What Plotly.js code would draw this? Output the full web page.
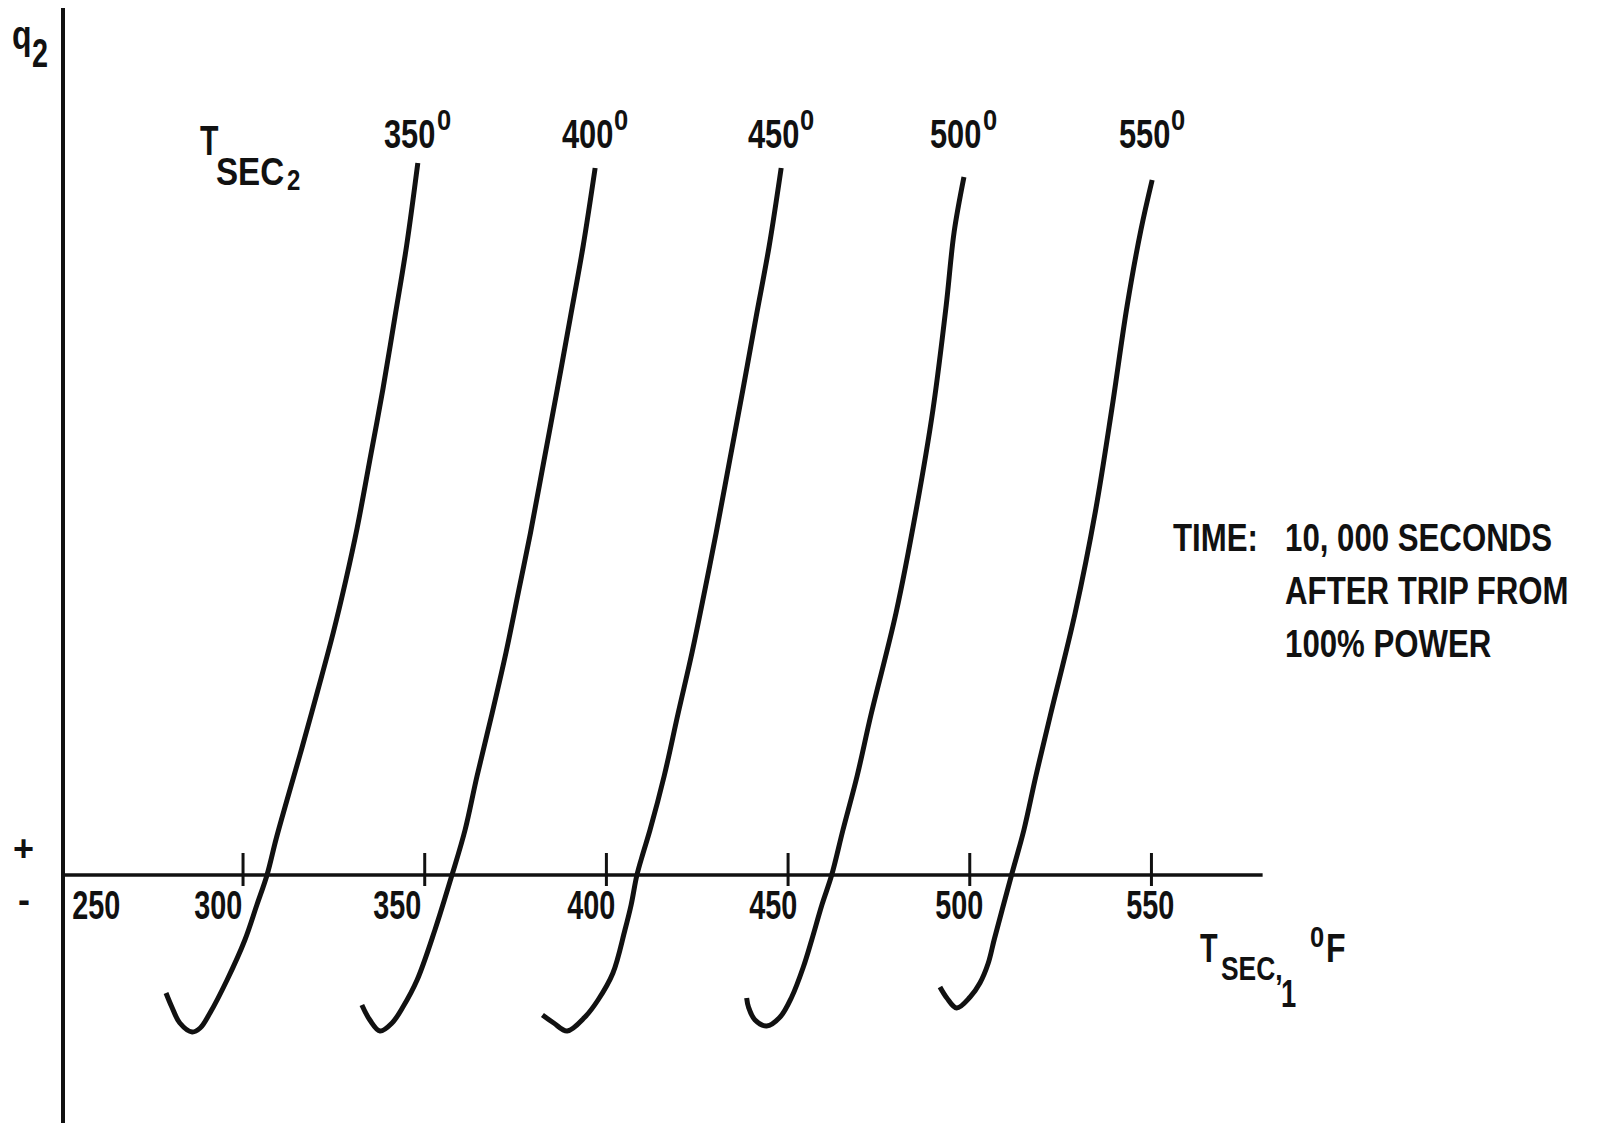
<!DOCTYPE html>
<html>
<head>
<meta charset="utf-8">
<script src="https://cdn.plot.ly/plotly-3.0.1.min.js"></script>
<style>
  html, body { margin: 0; padding: 0; background: #fff; }
  #chart { width: 1602px; height: 1123px; }
</style>
</head>
<body>
<div id="chart"></div>
<script>
// Secondary-side temperature of loop 2 (T_SEC2, deg F), one curve per level
const tsec2Levels = [350, 400, 450, 500, 550];

// T_SEC1 (deg F) and heat flow q2 (relative units) along each curve
const tsec1_350 = [278.8, 280.4, 282.6, 286.0, 288.2, 290.9, 295.6, 300.5, 303.8, 306.6, 309.1, 312.1, 316.2, 320.6, 324.8, 328.3, 331.4, 335.1, 338.5, 341.8, 345.0, 348.1];
const q2_350    = [-11.8, -13.2, -14.8, -15.7, -15.3, -13.8, -10.5, -6.5, -3.0, 0, 3.6, 7.5, 12.7, 18.5, 24.2, 29.5, 34.7, 41.9, 48.6, 55.8, 62.9, 71.2];

const tsec1_400 = [332.7, 334.9, 337.7, 341.0, 344.0, 347.9, 352.8, 357.5, 361.1, 364.4, 368.5, 372.4, 375.9, 379.1, 382.8, 386.5, 390.1, 393.6, 396.9];
const q2_400    = [-13.0, -14.5, -15.6, -14.8, -13.2, -10.5, -5.5, 0, 4.5, 9.9, 16.1, 22.3, 28.5, 34.2, 41.4, 48.6, 55.8, 62.9, 70.7];

const tsec1_450 = [382.4, 385.5, 389.2, 394.1, 397.7, 401.8, 405.1, 406.8, 408.4, 410.1, 412.0, 415.9, 419.7, 423.6, 427.1, 430.2, 433.9, 437.6, 441.2, 444.8, 448.1];
const q2_450    = [-14.0, -14.8, -15.6, -14.2, -12.5, -9.8, -5.5, -3.0, 0, 2.2, 4.5, 9.9, 16.1, 22.3, 28.5, 34.2, 41.4, 48.6, 55.8, 62.9, 70.7];

const tsec1_500 = [438.6, 439.1, 440.9, 444.1, 447.8, 451.0, 454.2, 456.5, 459.3, 462.0, 465.1, 469.0, 472.8, 479.7, 485.2, 489.9, 493.5, 495.7, 498.4];
const q2_500    = [-12.3, -13.2, -14.5, -15.1, -14.2, -12.2, -9.2, -6.5, -3.0, 0, 4.5, 9.9, 16.0, 26.2, 36.4, 46.6, 56.9, 64.3, 69.8];

const tsec1_550 = [491.8, 493.7, 496.4, 500.1, 502.8, 505.1, 506.7, 508.9, 511.5, 514.9, 518.2, 522.2, 529.0, 534.6, 539.1, 543.3, 547.1, 550.2];
const q2_550    = [-11.2, -12.3, -13.3, -12.2, -10.8, -8.8, -6.5, -3.5, 0, 4.5, 9.9, 16.0, 26.2, 36.4, 46.6, 56.9, 64.5, 69.5];

// T_SEC1 axis
const tsec1Ticks = [300, 350, 400, 450, 500, 550];
const tsec1LabelValues = [250, 300, 350, 400, 450, 500, 550];
const tsec1TickLabels = ['250', '300', '350', '400', '450', '500', '550'];
const tsec1AxisEnd = 580.6;

// Note on the right
const noteLines = ['TIME:', '10, 000 SECONDS', 'AFTER TRIP FROM', '100% POWER'];

// ---------------------------------------------------------------- layout
const W = 1602, H = 1123;
const M = { l: 65, r: 0, t: 8, b: 0 };
const X_RANGE = [251, 674];
const Y_RANGE = [-24.8, 86.7];
const plotW = W - M.l - M.r, plotH = H - M.t - M.b;
const FONT = '"Liberation Sans", Arial, sans-serif';
const INK = '#111';
// the lettering is a narrow face: letters and digits are compressed horizontally
const NARROW = 0.8, NARROW_DIGITS = 0.72, NARROW_LEVEL = 0.77;

const pxX = px => (px - M.l) / plotW;
const pxY = py => (H - M.b - py) / plotH;
const dataPx = v => M.l + (v - X_RANGE[0]) / (X_RANGE[1] - X_RANGE[0]) * plotW;

// text set by its left edge (or centre) and its baseline, in page pixels
const texts = [];
function put(text, x, baseline, size, anchor, sx) {
  texts.push({ text, x, baseline, size, anchor, sx: sx || 1 });
}

const curves = [
  [tsec1_350, q2_350], [tsec1_400, q2_400], [tsec1_450, q2_450],
  [tsec1_500, q2_500], [tsec1_550, q2_550]
];

// q2 axis name and sign marks
put('q', 12, 49, 40, 'left', NARROW);
put('2', 32, 67, 40, 'left', NARROW_DIGITS);
put('+', 23.5, 861, 36, 'center');
put('-', 23.5, 912, 36, 'center');

// T_SEC2 heading
put('T', 200, 155, 42, 'left', NARROW_DIGITS);
put('SEC', 216, 185, 39, 'left', 0.85);
put('2', 287, 190, 30, 'left', NARROW);

// level labels above the top end of each curve, degree mark raised
curves.forEach((c, i) => {
  const top = dataPx(c[0][c[0].length - 1]);
  put(String(tsec2Levels[i]), top - 33.5, 148, 40, 'left', NARROW_LEVEL);
  put('0', top + 19, 130, 30, 'left', 0.85);
});

// T_SEC1 tick labels (hand-lettered slightly left of their ticks)
const tickNudge = [35, -25, -27, -15, -15, -10, -1];
tsec1LabelValues.forEach((v, i) => {
  put(tsec1TickLabels[i], dataPx(v) + tickNudge[i], 919, 40, 'center', NARROW_DIGITS);
});

// T_SEC1 axis name
put('T', 1200, 962, 40, 'left', NARROW_DIGITS);
put('SEC,', 1221, 980, 33, 'left', NARROW);
put('1', 1281, 1007, 38, 'left', NARROW_DIGITS);
put('0', 1310, 947, 30, 'left', 0.85);
put('F', 1326, 962, 40, 'left', NARROW);

// note
put(noteLines[0], 1173, 551, 39, 'left', NARROW);
put(noteLines[1], 1285, 551, 39, 'left', NARROW);
put(noteLines[2], 1285, 604, 39, 'left', NARROW);
put(noteLines[3], 1285, 657, 39, 'left', NARROW);

const annotations = texts.map(t => ({
  xref: 'paper', yref: 'paper',
  x: pxX(t.x), y: pxY(t.baseline + 0.212 * t.size),
  xanchor: t.anchor, yanchor: 'bottom',
  text: t.text, showarrow: false,
  borderpad: 0, borderwidth: 0,
  font: { family: FONT, size: t.size, color: INK, weight: 'bold' }
}));

const traces = curves.map((c, i) => ({
  type: 'scatter', mode: 'lines',
  x: c[0], y: c[1],
  name: tsec2Levels[i] + '°',
  line: { color: INK, width: 5, shape: 'spline', smoothing: 1 },
  hoverinfo: 'skip'
}));

const shapes = [
  // T_SEC1 axis line
  { type: 'line', xref: 'x', yref: 'y', x0: tsec1LabelValues[0], x1: tsec1AxisEnd, y0: 0, y1: 0,
    line: { color: INK, width: 3.5 } }
].concat(tsec1Ticks.map(v => ({
  type: 'line', xref: 'x', yref: 'y', x0: v, x1: v, y0: -1.1, y1: 2.2,
  line: { color: INK, width: 3 }
})));

const layout = {
  width: W, height: H,
  margin: M,
  paper_bgcolor: '#fff', plot_bgcolor: '#fff',
  showlegend: false,
  xaxis: {
    range: X_RANGE,
    showgrid: false, zeroline: false, showline: false,
    showticklabels: false, ticks: '', tickvals: []
  },
  yaxis: {
    range: Y_RANGE,
    showgrid: false, zeroline: false,
    showline: true, linecolor: INK, linewidth: 4,
    showticklabels: false, ticks: '', tickvals: []
  },
  shapes: shapes,
  annotations: annotations
};

const gd = document.getElementById('chart');
Plotly.newPlot(gd, traces, layout, { staticPlot: true, displayModeBar: false }).then(() => {
  // narrow the lettering about its anchor point
  gd.querySelectorAll('g.annotation').forEach(g => {
    const i = +g.getAttribute('data-index');
    const t = texts[i];
    const el = g.querySelector('text.annotation-text');
    if (!t || !el || t.sx === 1) return;
    const bb = el.getBBox();
    const ox = t.anchor === 'left' ? bb.x : bb.x + bb.width / 2;
    el.setAttribute('transform', 'translate(' + ox + ' 0) scale(' + t.sx + ' 1) translate(' + (-ox) + ' 0)');
  });
});
</script>
</body>
</html>
